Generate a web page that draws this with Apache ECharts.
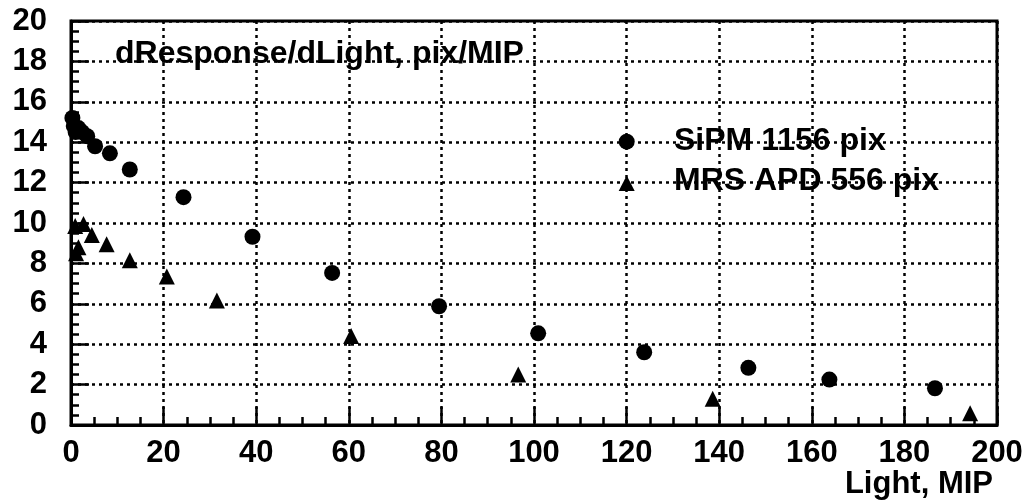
<!DOCTYPE html>
<html>
<head>
<meta charset="utf-8">
<script src="https://cdn.jsdelivr.net/npm/echarts@6/dist/echarts.min.js"></script>
<style>html,body{margin:0;padding:0;background:#fff;}#c{width:1028px;height:502px;}</style>
</head>
<body>
<div id="c"></div>
<script>
var sipmX = [0.3, 0.6, 1.0, 1.6, 2.4, 3.5, 5.2, 8.4, 12.7, 24.3, 39.2, 56.4, 79.5, 100.9, 123.8, 146.3, 163.8, 186.6];
var sipmY = [15.2, 14.8, 14.5, 14.7, 14.5, 14.3, 13.8, 13.45, 12.65, 11.28, 9.32, 7.53, 5.88, 4.54, 3.60, 2.83, 2.25, 1.82];
var apdX = [0.9, 1.1, 1.6, 2.7, 4.5, 7.7, 12.7, 20.7, 31.5, 60.5, 96.6, 138.6, 194.2];
var apdY = [9.85, 8.5, 8.8, 9.95, 9.4, 8.95, 8.15, 7.35, 6.16, 4.4, 2.5, 1.3, 0.58];
var seriesNames = ['SiPM 1156 pix', 'MRS APD 556 pix'];
var titleText = 'dResponse/dLight, pix/MIP';
var xTitle = 'Light, MIP';

function pairs(xs, ys) { return xs.map(function (x, i) { return [x, ys[i]]; }); }

var FONT = '"Liberation Sans", Arial, Helvetica, sans-serif';
var TXT = 'bold 32px ' + FONT;
var chart = echarts.init(document.getElementById('c'), null, {renderer: 'canvas'});
var dotted = {color: '#000', width: 2.5, type: [3, 4]};
var axisCommon = {
  axisLine: {show: true, onZero: false, lineStyle: {color: '#000', width: 3}},
  axisTick: {show: true, inside: true, length: 18, lineStyle: {color: '#000', width: 2.5}},
  minorTick: {show: true, splitNumber: 4, length: 8, lineStyle: {color: '#000', width: 2.5}},
  splitLine: {show: true, lineStyle: dotted},
  axisLabel: {color: '#000', fontFamily: FONT, fontWeight: 'bold', fontSize: 31}
};
chart.setOption({
  animation: false,
  backgroundColor: '#fff',
  grid: {left: 71, right: 31, top: 21, bottom: 77, show: true, borderColor: '#000', borderWidth: 3, containLabel: false},
  xAxis: Object.assign({}, axisCommon, {
    type: 'value', min: 0, max: 200, interval: 20,
    axisLabel: Object.assign({}, axisCommon.axisLabel, {margin: 13})
  }),
  yAxis: Object.assign({}, axisCommon, {
    type: 'value', min: 0, max: 20, interval: 2,
    axisLabel: Object.assign({}, axisCommon.axisLabel, {margin: 24})
  }),
  series: [
    {name: seriesNames[0], type: 'scatter', symbol: 'circle', symbolSize: 16,
     itemStyle: {color: '#000', opacity: 1}, data: pairs(sipmX, sipmY), z: 5},
    {name: seriesNames[1], type: 'scatter', symbol: 'triangle', symbolSize: 16,
     itemStyle: {color: '#000', opacity: 1}, data: pairs(apdX, apdY), z: 5}
  ],
  graphic: [
    {type: 'text', x: 115, y: 54, style: {text: titleText, fill: '#000', font: TXT, verticalAlign: 'middle', align: 'left'}, z: 10},
    {type: 'circle', shape: {cx: 626.7, cy: 141.7, r: 8}, style: {fill: '#000'}, z: 10},
    {type: 'polygon', shape: {points: [[626.7, 175.5], [634.7, 191], [618.7, 191]]}, style: {fill: '#000'}, z: 10},
    {type: 'text', x: 674, y: 141, style: {text: seriesNames[0], fill: '#000', font: TXT, verticalAlign: 'middle', align: 'left'}, z: 10},
    {type: 'text', x: 674, y: 181, style: {text: seriesNames[1], fill: '#000', font: TXT, verticalAlign: 'middle', align: 'left'}, z: 10},
    {type: 'text', x: 993, y: 484, style: {text: xTitle, fill: '#000', font: 'bold 31px ' + FONT, verticalAlign: 'middle', align: 'right'}, z: 10}
  ]
});
</script>
</body>
</html>
